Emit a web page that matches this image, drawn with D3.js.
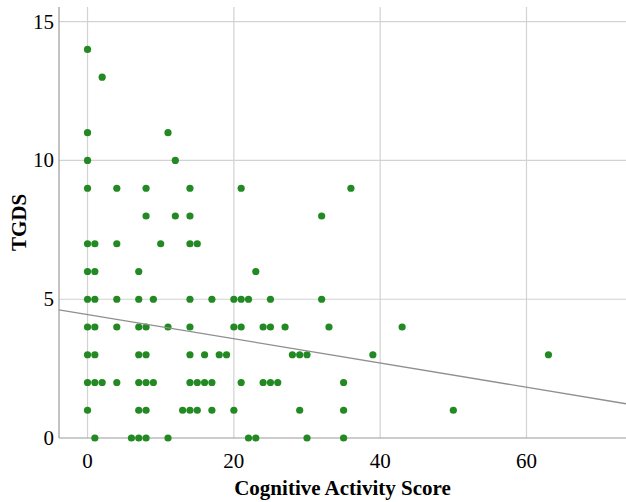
<!DOCTYPE html>
<html>
<head>
<meta charset="utf-8">
<script src="https://cdn.jsdelivr.net/npm/d3@7"></script>
<style>
  body { margin: 0; background: #fff; }
  text { font-family: "Liberation Serif", "Times New Roman", serif; }
</style>
</head>
<body>
<div id="vis"></div>
<script>
// TGDS value -> cognitive activity scores observed at that value
const tgdsLevels = [14, 13, 11, 10, 9, 8, 7, 6, 5, 4, 3, 2, 1, 0];
const scoresByLevel = [
  [0],
  [2],
  [0, 11],
  [0, 12],
  [0, 4, 8, 14, 21, 36],
  [8, 12, 14, 32],
  [0, 1, 4, 10, 14, 15],
  [0, 1, 7, 23],
  [0, 1, 4, 7, 9, 14, 17, 20, 21, 22, 25, 32],
  [0, 1, 4, 7, 8, 11, 14, 20, 21, 24, 25, 27, 33, 43],
  [0, 1, 7, 8, 14, 16, 18, 19, 28, 29, 30, 39, 63],
  [0, 1, 2, 4, 7, 8, 9, 14, 15, 16, 17, 21, 24, 25, 26, 35],
  [0, 7, 8, 13, 14, 15, 17, 20, 29, 35, 50],
  [1, 6, 7, 8, 11, 22, 23, 30, 35]
];
const xTicks = [0, 20, 40, 60];
const yTicks = [0, 5, 10, 15];
// fit line
const fitIntercept = 4.45;
const fitSlope = -0.0437;

const points = [];
tgdsLevels.forEach((t, i) => {
  scoresByLevel[i].forEach(s => points.push({score: s, tgds: t}));
});

const width = 626, height = 502;
const margin = {top: 7, right: 0, bottom: 64, left: 59};

const svg = d3.select("#vis").append("svg")
  .attr("width", width)
  .attr("height", height);

const x = d3.scaleLinear().domain([-3.9, 73.6]).range([margin.left, width - margin.right]);
const y = d3.scaleLinear().domain([0, 15.53]).range([height - margin.bottom, margin.top]);

// grid
svg.append("g").selectAll("line").data(xTicks).join("line")
  .attr("x1", d => x(d)).attr("x2", d => x(d))
  .attr("y1", margin.top).attr("y2", y(0))
  .attr("stroke", "#d2d2d2").attr("stroke-width", 1.2);
svg.append("g").selectAll("line").data(yTicks.filter(d => d > 0)).join("line")
  .attr("x1", margin.left).attr("x2", width)
  .attr("y1", d => y(d)).attr("y2", d => y(d))
  .attr("stroke", "#d2d2d2").attr("stroke-width", 1.2);

// axis lines
svg.append("line")
  .attr("x1", margin.left).attr("x2", margin.left)
  .attr("y1", margin.top).attr("y2", y(0))
  .attr("stroke", "#9a9a9a").attr("stroke-width", 1.2);
svg.append("line")
  .attr("x1", margin.left).attr("x2", width)
  .attr("y1", y(0)).attr("y2", y(0))
  .attr("stroke", "#9a9a9a").attr("stroke-width", 1.2);

// tick labels
svg.append("g").selectAll("text").data(yTicks).join("text")
  .attr("x", margin.left - 5)
  .attr("y", d => y(d) + 7)
  .attr("text-anchor", "end")
  .attr("font-size", 21)
  .text(d => d);
svg.append("g").selectAll("text").data(xTicks).join("text")
  .attr("x", d => x(d))
  .attr("y", y(0) + 30)
  .attr("text-anchor", "middle")
  .attr("font-size", 21)
  .text(d => d);

// axis titles
svg.append("text")
  .attr("x", (margin.left + width) / 2)
  .attr("y", 495)
  .attr("text-anchor", "middle")
  .attr("font-size", 21)
  .attr("font-weight", "bold")
  .text("Cognitive Activity Score");
svg.append("text")
  .attr("transform", `translate(26,${(margin.top + y(0)) / 2}) rotate(-90)`)
  .attr("text-anchor", "middle")
  .attr("font-size", 21)
  .attr("font-weight", "bold")
  .text("TGDS");

// points
svg.append("g").selectAll("circle").data(points).join("circle")
  .attr("cx", d => x(d.score))
  .attr("cy", d => y(d.tgds))
  .attr("r", 3.6)
  .attr("fill", "#238a23");

// fit line
const xd = x.domain();
svg.append("line")
  .attr("x1", x(xd[0])).attr("y1", y(fitIntercept + fitSlope * xd[0]))
  .attr("x2", x(xd[1])).attr("y2", y(fitIntercept + fitSlope * xd[1]))
  .attr("stroke", "#8f8f8f").attr("stroke-width", 1.3);
</script>
</body>
</html>
